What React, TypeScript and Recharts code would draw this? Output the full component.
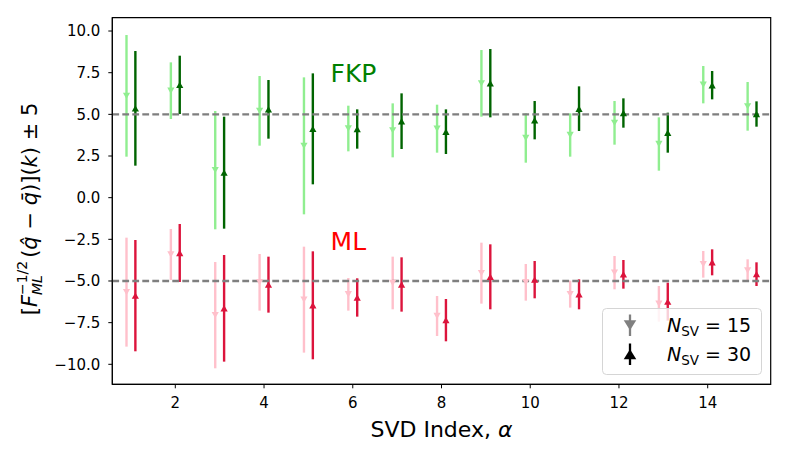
import React from 'react';
import {
  ScatterChart,
  Scatter,
  XAxis,
  YAxis,
  ErrorBar,
  ReferenceLine,
  ReferenceArea,
  ReferenceDot,
  Legend,
} from 'recharts';

// SVD index and the values (centre, half-width of the error bar)
const alphas = [1, 2, 3, 4, 5, 6, 7, 8, 9, 10, 11, 12, 13, 14, 15];

const fkp15 = [6.11, 6.42, 1.65, 5.21, 3.11, 4.15, 4.04, 4.14, 6.86, 3.58, 3.76, 4.49, 3.22, 6.78, 5.48];
const fkp15Err = [3.65, 1.7, 3.55, 2.09, 4.11, 1.37, 1.62, 1.44, 2.0, 1.48, 1.3, 1.31, 1.6, 1.12, 1.46];
const fkp30 = [5.36, 6.77, 1.5, 5.3, 4.13, 4.12, 4.59, 3.96, 6.87, 4.65, 5.34, 5.08, 3.9, 6.75, 5.02];
const fkp30Err = [3.44, 1.75, 3.36, 1.76, 3.33, 1.18, 1.67, 1.34, 2.05, 1.15, 1.34, 0.88, 1.2, 0.85, 0.76];

const ml15 = [-5.67, -3.41, -7.05, -5.08, -6.12, -5.8, -5.12, -7.1, -4.53, -5.08, -5.79, -4.5, -6.37, -4.0, -4.37];
const ml15Err = [3.27, 1.53, 3.19, 1.7, 3.18, 0.98, 1.58, 1.2, 1.83, 1.1, 0.81, 1.0, 1.07, 0.8, 0.67];
const ml30 = [-5.88, -3.32, -6.64, -5.22, -6.46, -5.99, -5.21, -7.35, -4.75, -4.92, -5.8, -4.6, -6.24, -3.88, -4.59];
const ml30Err = [3.34, 1.74, 3.2, 1.68, 3.24, 1.15, 1.63, 1.27, 1.95, 1.12, 0.9, 0.86, 1.14, 0.78, 0.71];

const xTicks = [2, 4, 6, 8, 10, 12, 14];
const yTicks = [-10, -7.5, -5, -2.5, 0, 2.5, 5, 7.5, 10];

const X_DOMAIN: [number, number] = [0.58, 15.42];
const Y_DOMAIN: [number, number] = [-11.2, 10.8];

const FONT = 'DejaVu Sans';

const toPoints = (vals: number[], errs: number[], shift: number) =>
  alphas.map((a, i) => ({ x: a + shift, y: vals[i], err: errs[i] }));

const fkp15Data = toPoints(fkp15, fkp15Err, -0.1);
const fkp30Data = toPoints(fkp30, fkp30Err, 0.1);
const ml15Data = toPoints(ml15, ml15Err, -0.1);
const ml30Data = toPoints(ml30, ml30Err, 0.1);

const TriDown = (props: any) => {
  const { cx, cy, fill } = props;
  if (cx == null || cy == null) return null;
  return (
    <polygon
      points={`${cx - 3.6},${cy - 3.2} ${cx + 3.6},${cy - 3.2} ${cx},${cy + 3.2}`}
      fill={fill}
    />
  );
};

const TriUp = (props: any) => {
  const { cx, cy, fill } = props;
  if (cx == null || cy == null) return null;
  return (
    <polygon
      points={`${cx - 3.6},${cy + 3.2} ${cx + 3.6},${cy + 3.2} ${cx},${cy - 3.2}`}
      fill={fill}
    />
  );
};

const fmtY = (v: number) => v.toFixed(1).replace('-', '\u2212');

const XLabel = (props: any) => {
  const vb = props.viewBox || {};
  return (
    <text
      x={vb.x + vb.width / 2}
      y={vb.y + 53}
      textAnchor="middle"
      fontFamily={FONT}
      fontSize={22}
      fill="#000"
    >
      SVD Index, <tspan fontStyle="italic">α</tspan>
    </text>
  );
};

const YLabel = (props: any) => {
  const vb = props.viewBox || {};
  const x = vb.x + 37;
  const y = vb.y + vb.height / 2 + 8;
  return (
    <text
      transform={`translate(${x},${y}) rotate(-90)`}
      textAnchor="middle"
      fontFamily={FONT}
      fontSize={21}
      fill="#000"
    >
      [<tspan fontStyle="italic">F</tspan>
      <tspan fontSize={14} fontStyle="italic" dy={5}>ML</tspan>
      <tspan fontSize={14} dx={-20} dy={-15}>−1/2</tspan>
      <tspan dy={10} dx={3}>(</tspan>
      <tspan fontStyle="italic">{'q\u0302'}</tspan>
      <tspan> − </tspan>
      <tspan fontStyle="italic">{'q\u0304'}</tspan>
      <tspan>)](</tspan>
      <tspan fontStyle="italic">k</tspan>
      <tspan>) ± 5</tspan>
    </text>
  );
};

const groupLabel = (text: string, color: string) => (props: any) => {
  const vb = props.viewBox || {};
  return (
    <text x={vb.x} y={vb.y} dy="0.36em" fontFamily={FONT} fontSize={25} fill={color}>
      {text}
    </text>
  );
};

const LegendBox = () => (
  <svg width={160} height={67} style={{ display: 'block' }}>
    <rect x={0.5} y={0.5} width={159} height={66} rx={4} fill="rgba(255,255,255,0.8)" stroke="#d5d5d5" />
    <line x1={28} x2={28} y1={6.5} y2={28} stroke="#808080" strokeWidth={2.3} />
    <polygon points="21.7,12.3 34.3,12.3 28,22.3" fill="#808080" />
    <text x={65} y={24} fontFamily={FONT} fontSize={19} fill="#000">
      <tspan fontStyle="italic">N</tspan>
      <tspan fontSize={13.5} dy={4}>SV</tspan>
      <tspan dy={-4}> = 15</tspan>
    </text>
    <line x1={28} x2={28} y1={35.5} y2={57} stroke="#000" strokeWidth={2.3} />
    <polygon points="21.7,51.3 34.3,51.3 28,41.3" fill="#000" />
    <text x={65} y={53} fontFamily={FONT} fontSize={19} fill="#000">
      <tspan fontStyle="italic">N</tspan>
      <tspan fontSize={13.5} dy={4}>SV</tspan>
      <tspan dy={-4}> = 30</tspan>
    </text>
  </svg>
);

const tickStyle = { fontFamily: FONT, fontSize: 15, fill: '#000' };
const BAR_W = 2.4;

export default function App() {
  return (
    <div style={{ position: 'absolute', left: 0, top: 0, background: '#fff' }}>
      <style>{`.recharts-errorBars line, .recharts-errorBar line { stroke-width: ${BAR_W}px; }`}</style>
      <ScatterChart width={789} height={455} margin={{ top: 17.7, right: 18.3, bottom: 0, left: 0 }}>
        <XAxis
          type="number"
          dataKey="x"
          domain={X_DOMAIN}
          ticks={xTicks}
          allowDataOverflow
          height={70.7}
          tickSize={4}
          tickMargin={9}
          tick={tickStyle}
          stroke="#000"
          label={<XLabel />}
        />
        <YAxis
          type="number"
          dataKey="y"
          domain={Y_DOMAIN}
          ticks={yTicks}
          allowDataOverflow
          width={112.3}
          tickSize={4}
          tickMargin={8}
          tick={tickStyle}
          tickFormatter={fmtY}
          stroke="#000"
          label={<YLabel />}
        />

        <Scatter data={fkp15Data} fill="#90ee90" shape={TriDown} isAnimationActive={false}>
          <ErrorBar dataKey="err" direction="y" width={0} stroke="#90ee90" strokeWidth={BAR_W} isAnimationActive={false} />
        </Scatter>
        <Scatter data={fkp30Data} fill="#006400" shape={TriUp} isAnimationActive={false}>
          <ErrorBar dataKey="err" direction="y" width={0} stroke="#006400" strokeWidth={BAR_W} isAnimationActive={false} />
        </Scatter>
        <Scatter data={ml15Data} fill="#ffc0cb" shape={TriDown} isAnimationActive={false}>
          <ErrorBar dataKey="err" direction="y" width={0} stroke="#ffc0cb" strokeWidth={BAR_W} isAnimationActive={false} />
        </Scatter>
        <Scatter data={ml30Data} fill="#dc143c" shape={TriUp} isAnimationActive={false}>
          <ErrorBar dataKey="err" direction="y" width={0} stroke="#dc143c" strokeWidth={BAR_W} isAnimationActive={false} />
        </Scatter>

        <ReferenceLine y={5} stroke="#7f7f7f" strokeWidth={2.4} strokeDasharray="6.8 3.2" />
        <ReferenceLine y={-5} stroke="#7f7f7f" strokeWidth={2.4} strokeDasharray="6.8 3.2" />

        <ReferenceDot x={5.5} y={7.5} r={0} stroke="none" label={groupLabel('FKP', '#008000')} />
        <ReferenceDot x={5.5} y={-2.6} r={0} stroke="none" label={groupLabel('ML', '#ff0000')} />

        <ReferenceArea
          x1={X_DOMAIN[0]}
          x2={X_DOMAIN[1]}
          y1={Y_DOMAIN[0]}
          y2={Y_DOMAIN[1]}
          fill="none"
          fillOpacity={0}
          stroke="#000"
          strokeWidth={1.2}
          ifOverflow="visible"
        />

        <Legend
          layout="vertical"
          align="center"
          verticalAlign="middle"
          content={<LegendBox />}
          wrapperStyle={{ position: 'absolute', left: 601.7, top: 307.7, width: 160, height: 67 }}
        />
      </ScatterChart>
    </div>
  );
}
